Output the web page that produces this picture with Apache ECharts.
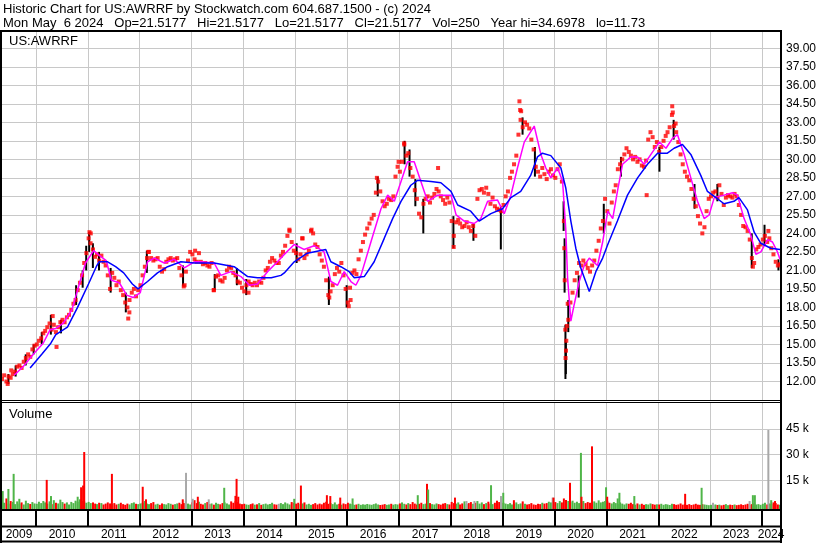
<!DOCTYPE html>
<html><head><meta charset="utf-8">
<script src="https://cdn.jsdelivr.net/npm/echarts@6/dist/echarts.min.js"></script>
<style>html,body{margin:0;padding:0;background:#fff}#c{width:830px;height:543px}</style>
</head><body><div id="c"></div>
<script>
// ---------- DATA ----------
const headerLine1 = 'Historic Chart for US:AWRRF by Stockwatch.com 604.687.1500 - (c) 2024';
const headerLine2 = 'Mon May  6 2024   Op=21.5177   Hi=21.5177   Lo=21.5177   Cl=21.5177   Vol=250   Year hi=34.6978   lo=11.73';
const symbolName = 'US:AWRRF';
const volumeTitle = 'Volume';
const yearLabels = ['2009','2010','2011','2012','2013','2014','2015','2016','2017','2018','2019','2020','2021','2022','2023','2024'];
const rangeStart = '2009-05-06', rangeEnd = '2024-05-06';
const priceTicks = {min: 10.5, max: 40.4, step: 1.5, firstLabel: 12, lastLabel: 39};
const volTicks = {min: 0, max: 60, step: 15};

// semi-monthly closes (6th and 21st of each month), 2009 starts in May
const c2009 = [12.2,12.5, 12.0,12.4, 12.3,12.6, 12.8,13.2, 13.3,13.1, 13.6,13.9, 14.2,14.0, 14.6,14.9];
const c2010 = [15.0,15.3, 15.5,15.9, 16.1,16.4, 16.7,16.2, 16.6,16.0, 16.4,16.8, 17.0,16.8, 17.2,17.4, 17.8,18.3, 18.6,19.4, 20.0,20.6, 21.6,22.4];
const c2011 = [23.6,24.0, 22.7,22.1, 22.3,21.8, 22.2,21.7, 21.4,20.6, 19.5,20.8, 20.4,19.8, 20.1,19.4, 19.0,18.4, 18.0,18.6, 19.2,19.5, 18.9,19.4];
const c2012 = [19.8,20.6, 21.3,22.0, 22.5,22.0, 21.8,21.9, 22.0,21.3, 20.9,21.1, 21.7,21.9, 22.0,21.8, 21.9,22.0, 21.2,20.6, 19.7,20.9, 21.8,22.5];
const c2013 = [22.3,21.9, 21.7,22.4, 21.7,21.5, 21.6,21.4, 21.3,21.6, 19.4,20.5, 20.6,20.2, 20.1,20.4, 21.0,21.3, 21.2,20.8, 20.6,20.1, 20.0,19.6];
const c2014 = [19.3,19.8, 20.1,19.9, 19.8,20.0, 19.8,20.1, 20.0,20.4, 21.0,21.2, 21.7,22.0, 21.8,21.6, 21.6,22.2, 22.5,23.0, 23.8,24.2, 23.3,22.6];
const c2015 = [22.4,21.9, 22.3,23.6, 22.0,22.3, 22.6,24.2, 24.0,23.1, 22.9,22.3, 21.8,21.3, 20.2,19.0, 19.3,19.8, 20.7,21.2, 20.9,21.6, 20.6,19.5];
const c2016 = [18.4,19.6, 20.8,21.0, 20.7,21.9, 22.6,23.3, 23.9,24.4, 24.8,25.2, 25.5,27.3, 28.2,27.4, 26.6,26.2, 26.4,26.8, 26.7,27.0, 28.6,29.4];
const c2017 = [29.0,29.8, 31.2,30.3, 30.5,29.3, 28.6,27.5, 26.8,25.6, 25.3,26.4, 26.8,27.0, 26.5,26.9, 27.2,27.6, 27.4,27.0, 26.7,26.4, 26.9,26.5];
const c2018 = [25.0,23.8, 24.9,25.1, 24.8,24.5, 24.6,24.9, 24.5,24.2, 24.6,23.8, 26.8,27.5, 27.6,27.3, 27.7,27.2, 26.4,26.9, 26.2,26.0, 25.9,25.8];
const c2019 = [26.3,27.0, 27.4,28.5, 29.0,29.6, 30.3,32.0, 33.2,32.6, 33.0,32.8, 32.5,31.6, 30.8,29.4, 29.0,28.6, 29.3,28.8, 28.4,29.0, 29.2,28.7];
const c2020 = [28.5,29.2, 29.6,28.2, 25.0,14.5, 17.0,18.4, 19.2,20.2, 20.8,21.6, 21.4,21.8, 21.5,21.2, 20.9,21.4, 21.8,22.6, 23.4,24.4, 25.0,26.8];
const c2021 = [25.8,24.8, 26.5,27.4, 27.9,29.2, 29.6,30.0, 30.4,30.9, 30.6,30.3, 30.0,30.2, 29.8,30.0, 29.5,29.4, 29.9,31.6, 32.2,31.8, 31.0,31.4];
const c2022 = [30.6,31.0, 31.5,31.9, 32.2,32.6, 33.6,32.7, 32.2,31.4, 30.4,29.6, 29.0,28.6, 28.3,27.6, 26.8,26.2, 25.4,24.8, 24.0,24.5, 25.8,26.8];
const c2023 = [27.0,27.3, 27.4,26.9, 27.9,27.2, 26.3,26.9, 27.1,27.0, 26.9,27.2, 27.0,26.3, 25.5,24.6, 24.5,24.2, 23.5,22.0, 21.6,22.7, 22.9,23.1];
const c2024 = [23.5,23.8, 23.3,23.6, 22.8,22.3, 21.7,21.4, 21.5];

// extra individual closes (outlying dots)
const extraCloses = [
 ['2009-06-15',11.8],['2009-07-10',12.9],['2010-04-28',17.3],['2010-05-25',14.8],
 ['2011-01-12',24.1],['2011-01-20',23.2],['2011-10-12',17.1],['2011-10-20',17.6],
 ['2012-03-01',22.5],['2012-11-12',19.8],['2013-01-25',22.6],['2013-06-05',19.4],
 ['2014-02-05',19.2],['2014-11-20',24.3],['2015-02-18',23.6],['2015-04-25',24.3],
 ['2015-08-28',18.8],['2016-01-12',18.1],['2016-01-25',18.6],['2016-07-28',28.5],
 ['2016-12-28',29.8],['2017-02-05',31.3],['2017-10-02',29.3],['2018-01-20',22.9],
 ['2019-04-28',34.7],['2019-05-03',34.0],['2019-05-10',33.9],
 ['2020-03-09',22.8],['2020-03-12',20.2],['2020-03-16',16.2],['2020-03-18',13.9],
 ['2020-03-23',15.3],['2020-03-27',16.5],['2020-04-02',18.3],
 ['2021-10-10',27.1],['2022-04-08',34.3],['2022-04-12',33.8],['2022-05-02',32.9],
 ['2023-10-28',21.3],['2024-02-14',24.2]
];

// daily low-high ranges (black bars)
const rangeBars = [
 ['2009-06-20',11.8,12.6],['2009-08-10',12.4,13.3],['2009-10-20',13.3,14.2],['2009-12-15',14.2,15.0],
 ['2010-02-10',15.0,16.0],['2010-04-15',15.8,17.4],['2010-06-25',15.9,17.0],['2010-10-10',18.2,19.8],
 ['2010-11-25',19.6,21.0],['2010-12-20',21.0,23.0],['2011-01-10',22.5,24.1],['2011-02-05',21.2,23.2],
 ['2011-03-20',21.0,22.5],['2011-06-10',19.2,21.2],['2011-09-25',17.6,19.2],['2012-02-20',20.8,22.6],
 ['2012-11-01',19.7,21.4],['2013-06-12',19.4,20.7],['2013-11-15',19.8,21.2],['2014-01-20',19.0,20.3],
 ['2015-01-10',21.6,23.2],['2015-08-25',18.2,20.5],['2015-12-28',18.0,19.8],['2016-08-03',27.0,28.6],
 ['2017-02-08',29.6,31.5],['2017-03-15',28.6,30.8],['2017-04-25',26.2,28.4],['2017-06-20',24.0,26.8],
 ['2018-01-18',22.8,25.4],['2018-06-08',23.4,24.8],['2018-12-18',22.7,26.2],['2019-05-20',32.0,33.4],
 ['2019-08-15',28.6,31.0],['2020-03-04',24.2,26.6],['2020-03-11',19.2,23.6],['2020-03-17',12.2,16.6],
 ['2020-03-20',12.6,15.2],['2020-04-06',16.0,18.6],['2020-06-18',18.8,20.6],['2020-12-12',24.0,26.4],
 ['2021-04-12',28.6,30.2],['2022-01-08',29.0,31.0],['2022-04-18',31.6,33.2],['2022-09-12',26.0,28.0],
 ['2023-02-20',26.6,28.0],['2023-10-20',21.2,24.0],['2024-01-18',23.0,24.7],['2024-04-25',21.0,21.9]
];

// short moving average (magenta)
const maShort = [
 ['2009-07-31',12.5],['2009-10-01',13.2],['2009-12-20',14.3],['2010-02-20',15.1],['2010-04-10',16.2],
 ['2010-05-20',16.3],['2010-07-10',16.7],['2010-09-10',17.8],['2010-10-25',19.6],['2010-12-15',21.6],
 ['2011-02-10',22.6],['2011-04-05',22.1],['2011-05-10',21.8],['2011-06-15',20.2],['2011-08-10',20.0],
 ['2011-10-01',19.0],['2011-11-15',18.8],['2012-01-05',19.2],['2012-02-25',21.7],['2012-04-12',22.0],
 ['2012-06-22',21.6],['2012-09-01',21.9],['2012-11-10',21.2],['2013-01-20',21.7],['2013-03-06',21.7],
 ['2013-06-08',21.6],['2013-07-25',20.6],['2013-10-04',20.9],['2013-12-14',20.5],['2014-02-11',19.8],
 ['2014-04-09',19.9],['2014-06-19',20.9],['2014-08-28',21.7],['2014-10-15',22.3],['2014-12-24',23.1],
 ['2015-03-03',22.7],['2015-05-13',23.0],['2015-07-22',22.5],['2015-09-08',20.1],['2015-10-25',19.8],
 ['2015-12-11',20.9],['2016-01-27',20.1],['2016-03-02',19.8],['2016-04-07',20.6],['2016-06-16',23.3],
 ['2016-08-26',26.0],['2016-10-12',27.1],['2016-11-28',26.6],['2017-01-14',28.2],['2017-03-01',29.8],
 ['2017-04-17',29.8],['2017-06-03',28.2],['2017-07-20',26.6],['2017-09-29',27.1],['2018-01-01',27.1],
 ['2018-02-06',25.5],['2018-04-04',25.0],['2018-06-13',24.8],['2018-07-30',25.2],['2018-09-16',26.6],
 ['2018-11-25',26.7],['2019-01-11',25.6],['2019-02-27',27.1],['2019-04-14',29.3],['2019-06-01',31.4],
 ['2019-08-10',32.7],['2019-09-26',30.4],['2019-10-31',29.3],['2019-12-05',28.5],['2020-01-22',29.3],
 ['2020-02-26',28.2],['2020-03-19',24.4],['2020-04-01',20.4],['2020-04-24',16.9],['2020-05-17',18.2],
 ['2020-06-22',20.1],['2020-07-27',21.4],['2020-09-01',22.0],['2020-10-29',21.4],['2020-12-04',23.3],
 ['2021-01-09',25.8],['2021-02-13',25.2],['2021-03-18',27.4],['2021-04-23',29.6],['2021-06-21',30.2],
 ['2021-08-07',30.2],['2021-09-23',29.6],['2021-11-09',30.4],['2022-01-07',31.4],['2022-02-23',30.9],
 ['2022-04-10',31.7],['2022-05-15',32.0],['2022-07-01',30.4],['2022-08-17',28.5],['2022-10-03',26.6],
 ['2022-11-19',25.2],['2022-12-24',25.5],['2023-01-29',26.9],['2023-04-08',27.1],['2023-06-06',27.3],
 ['2023-07-11',27.1],['2023-08-27',25.2],['2023-10-13',23.9],['2023-11-18',22.3],['2023-12-23',22.5],
 ['2024-02-09',23.5],['2024-03-14',23.3],['2024-04-18',22.5],['2024-05-06',21.9]
];

// long moving average (blue)
const maLong = [
 ['2009-11-20',13.1],['2010-02-10',14.2],['2010-04-15',15.1],['2010-05-20',15.8],['2010-08-10',16.4],
 ['2010-10-20',18.0],['2011-01-05',19.9],['2011-03-01',21.3],['2011-03-20',21.7],['2011-05-20',21.7],
 ['2011-07-15',21.3],['2011-09-10',20.8],['2011-11-10',19.9],['2011-12-20',19.5],['2012-02-25',20.1],
 ['2012-05-05',20.8],['2012-07-15',21.3],['2012-10-17',21.7],['2013-01-20',21.6],['2013-06-08',21.6],
 ['2013-10-27',21.3],['2014-01-30',20.5],['2014-04-09',20.4],['2014-07-15',20.4],['2014-09-21',20.6],
 ['2014-10-15',20.8],['2014-12-24',21.7],['2015-03-26',22.4],['2015-08-03',22.7],['2015-09-08',21.7],
 ['2015-11-17',21.3],['2016-01-15',20.9],['2016-02-20',20.4],['2016-04-30',20.5],['2016-07-09',21.7],
 ['2016-09-18',23.6],['2016-11-16',25.2],['2017-01-14',26.6],['2017-03-24',27.9],['2017-05-10',28.3],
 ['2017-08-13',28.2],['2017-10-22',28.1],['2018-01-01',27.4],['2018-02-17',26.3],['2018-05-20',25.8],
 ['2018-07-18',25.0],['2018-10-09',25.6],['2018-12-30',26.0],['2019-02-27',26.9],['2019-05-07',27.4],
 ['2019-07-16',28.7],['2019-09-02',30.2],['2019-10-07',30.5],['2019-12-05',30.3],['2020-02-14',29.3],
 ['2020-03-19',27.7],['2020-04-24',25.0],['2020-05-29',22.8],['2020-07-03',21.2],['2020-09-01',19.3],
 ['2020-10-17',20.9],['2020-12-04',22.0],['2021-01-09',23.1],['2021-03-18',25.0],['2021-05-28',27.1],
 ['2021-08-07',28.5],['2021-10-16',29.6],['2021-12-26',30.5],['2022-03-05',30.5],['2022-04-21',30.9],
 ['2022-06-19',31.2],['2022-08-17',30.4],['2022-10-26',28.7],['2022-12-12',27.4],['2023-01-29',27.0],
 ['2023-04-08',26.4],['2023-06-17',26.6],['2023-07-22',26.9],['2023-09-20',25.9],['2023-11-06',24.1],
 ['2023-12-23',23.2],['2024-03-02',22.8],['2024-05-06',22.7]
];

// semi-monthly background volume (thousands of shares)
const v2009 = [3.5,2.0,4.5,1.5,3.0,2.5,1.2,2.8,1.5,2.2,1.0,3.2,1.8,1.3,2.4,1.6];
const v2010 = [1.4,2.6,1.8,3.0,2.2,1.5,2.8,1.2,3.5,2.0,1.6,3.8,2.4,1.5,2.2,1.0,2.5,1.8,3.2,2.6,4.0,3.0,2.8,2.0];
const v2011 = [2.5,1.8,2.2,1.5,1.2,2.0,1.8,1.0,1.5,2.2,1.6,1.2,1.8,1.0,1.4,2.0,1.2,0.8,1.5,1.0,1.8,2.2,1.4,1.2];
const v2012 = [1.6,2.0,3.0,1.5,1.2,1.8,2.4,1.0,1.4,0.8,1.6,1.2,1.0,1.8,1.4,0.9,1.2,1.6,2.0,1.2,1.8,3.0,1.5,1.0];
const v2013 = [2.2,3.5,1.8,2.6,1.4,1.0,1.8,2.4,1.2,1.6,0.9,2.0,1.4,1.1,1.8,2.2,1.6,1.0,2.8,2.0,3.0,2.4,1.5,1.2];
const v2014 = [1.4,1.0,0.8,1.2,1.6,0.9,1.1,1.8,0.8,1.2,1.5,1.0,1.3,2.0,1.1,0.9,1.4,1.8,1.2,2.2,1.6,1.0,2.4,1.8];
const v2015 = [1.5,2.0,1.2,1.6,2.2,1.0,1.4,0.8,1.2,1.8,1.0,1.5,1.1,2.0,2.6,1.4,1.8,1.2,2.2,1.0,1.4,0.9,1.6,1.2];
const v2016 = [2.0,1.5,1.2,0.8,1.0,1.4,0.8,1.1,0.9,1.3,1.0,0.8,1.2,1.6,1.0,0.7,0.9,1.2,0.8,1.0,1.4,0.9,1.2,1.0];
const v2017 = [1.6,2.2,1.4,1.0,1.8,1.2,2.4,1.5,1.0,1.4,2.0,1.2,1.5,1.0,1.8,1.2,1.0,1.6,1.2,0.9,1.5,1.8,1.2,1.0];
const v2018 = [2.5,1.8,1.5,2.2,1.0,1.6,2.8,1.2,1.8,2.4,1.4,2.0,3.0,1.5,2.2,1.2,1.8,2.6,1.5,1.2,2.0,3.2,2.4,1.8];
const v2019 = [2.0,1.5,1.2,1.8,1.0,1.4,2.2,1.2,1.6,2.8,1.4,1.0,1.2,1.8,1.0,0.8,1.4,1.2,2.0,1.5,1.8,2.6,2.2,1.6];
const v2020 = [2.4,1.8,3.0,2.2,4.5,3.6,3.0,2.4,3.2,2.0,2.6,1.8,2.2,3.0,1.8,2.4,2.0,1.6,2.8,2.0,3.4,2.2,2.6,3.0];
const v2021 = [2.8,2.0,1.6,2.4,1.8,1.2,2.2,1.5,1.0,1.6,1.4,2.0,1.2,0.9,1.6,1.0,1.4,0.8,1.2,1.0,1.6,1.2,0.9,1.1];
const v2022 = [1.0,1.4,0.8,1.2,1.0,0.7,1.4,1.2,0.8,1.0,1.6,0.9,1.1,0.8,1.2,0.7,1.0,1.4,0.9,0.8,1.2,1.0,0.8,0.6];
const v2023 = [0.8,0.6,1.0,0.7,0.9,0.5,0.8,1.2,0.6,0.9,0.7,1.0,0.6,0.8,1.1,0.7,1.0,1.4,0.9,1.2,1.6,1.0,1.2,0.8];
const v2024 = [1.4,2.0,1.0,1.6,1.2,2.2,1.8,1.0,0.8];

// notable volume days: date, thousands, direction (u=up, d=down, n=unchanged)
const volSpikes = [
 ['2009-05-11',8.8,'u'],['2009-06-20',10.0,'u'],['2009-07-27',18.8,'u'],['2009-09-05',4.3,'u'],
 ['2010-03-17',15.3,'d'],['2010-04-16',5.9,'u'],['2010-10-21',5.5,'u'],['2010-11-14',11.0,'d'],
 ['2010-11-28',12.0,'d'],['2010-12-06',31.5,'d'],['2011-06-19',18.8,'d'],['2012-01-22',11.3,'d'],
 ['2012-02-14',4.0,'d'],['2012-10-30',4.0,'d'],['2012-11-22',19.4,'n'],['2013-01-08',4.3,'n'],
 ['2013-02-13',5.5,'d'],['2013-05-01',4.0,'n'],['2013-08-18',10.7,'u'],['2013-11-05',6.0,'d'],
 ['2013-11-13',15.9,'d'],['2013-11-25',5.5,'d'],['2014-12-24',4.3,'u'],['2015-02-09',12.0,'d'],
 ['2015-08-11',6.4,'d'],['2015-09-04',5.9,'d'],['2015-11-13',5.0,'d'],['2016-02-08',4.5,'u'],
 ['2017-05-12',6.4,'u'],['2017-07-16',13.0,'d'],['2017-07-24',9.7,'u'],['2018-01-29',5.0,'d'],
 ['2018-04-20',3.0,'n'],['2018-06-15',3.0,'n'],['2018-10-10',12.2,'u'],['2018-12-19',5.9,'n'],
 ['2019-01-04',7.8,'u'],['2019-03-20',3.5,'d'],['2019-12-18',5.0,'n'],['2019-12-24',5.0,'d'],
 ['2020-04-18',13.6,'d'],['2020-07-04',31.0,'u'],['2020-07-08',5.5,'d'],['2020-09-20',34.8,'d'],
 ['2020-12-28',11.0,'u'],['2021-01-05',5.5,'d'],['2021-03-20',4.5,'u'],['2021-04-01',7.8,'u'],
 ['2021-07-15',5.9,'u'],['2022-07-08',7.2,'d'],['2022-11-01',10.7,'u'],['2023-01-20',2.0,'n'],
 ['2023-10-05',3.0,'n'],['2023-10-28',6.4,'u'],['2023-11-11',6.4,'u'],['2024-02-14',44.3,'n'],
 ['2024-03-05',3.5,'u'],['2024-04-01',3.0,'d']
];

// ---------- BUILD ----------
const ts = s => Date.parse(s + 'T00:00:00Z');
const closeYears = [[2009,c2009],[2010,c2010],[2011,c2011],[2012,c2012],[2013,c2013],[2014,c2014],[2015,c2015],[2016,c2016],[2017,c2017],[2018,c2018],[2019,c2019],[2020,c2020],[2021,c2021],[2022,c2022],[2023,c2023],[2024,c2024]];
const volYears = [[2009,v2009],[2010,v2010],[2011,v2011],[2012,v2012],[2013,v2013],[2014,v2014],[2015,v2015],[2016,v2016],[2017,v2017],[2018,v2018],[2019,v2019],[2020,v2020],[2021,v2021],[2022,v2022],[2023,v2023],[2024,v2024]];
function semiDate(year, j){ const m0 = (year === 2009 ? 4 : 0) + Math.floor(j/2); return Date.UTC(year, m0, j % 2 ? 21 : 6); }

const closePts = [];
closeYears.forEach(([y, arr]) => arr.forEach((v, j) => closePts.push([semiDate(y, j), v])));
const dotData = closePts.concat(extraCloses.map(d => [ts(d[0]), d[1]]));

const dirCode = {u: 0, d: 1, n: 2};
const volColors = ['#4fb548', '#ff0000', '#a8a8a8'];
const volData = [];
let k = 0;
volYears.forEach(([y, arr]) => arr.forEach((v, j) => {
  const c = closePts[k][1], p = k > 0 ? closePts[k-1][1] : c;
  volData.push([semiDate(y, j), v, c > p ? 0 : (c < p ? 1 : 2)]);
  k++;
}));
volSpikes.forEach(d => volData.push([ts(d[0]), d[1], dirCode[d[2]]]));

const X_MIN = ts(rangeStart), X_MAX = ts(rangeEnd);
const yearMids = yearLabels.map(y => {
  const a = Math.max(Date.UTC(+y, 0, 1), X_MIN), b = Math.min(Date.UTC(+y + 1, 0, 1), X_MAX);
  return [(a + b) / 2, 0, y];
});

const FONT = '"Liberation Sans", Arial, sans-serif';
const GRID_C = '#c8c8c8';
const YEAR_MS = 365 * 864e5;
function xAxisFor(gi, color, width) {
  return {type: 'time', gridIndex: gi, min: X_MIN, max: X_MAX,
    minInterval: YEAR_MS, maxInterval: YEAR_MS + 864e5,
    axisLine: {show: false}, axisTick: {show: false}, axisLabel: {show: false},
    splitLine: {show: true, showMinLine: false, showMaxLine: false, lineStyle: {color: color, width: width}}};
}

const chart = echarts.init(document.getElementById('c'), null, {renderer: 'canvas'});
const borderLines = [
  [0, 31, 782, 31, 2], [1, 30, 1, 543, 2], [781, 30, 781, 543, 2],
  [0, 400.5, 782, 400.5, 1], [0, 402.5, 782, 402.5, 1],
  [0, 510, 782, 510, 2], [0, 526.5, 782, 526.5, 2], [0, 541.5, 782, 541.5, 2]
];
chart.setOption({
  animation: false,
  useUTC: true,
  backgroundColor: '#fff',
  grid: [
    {left: 2, top: 31, width: 778, height: 369, outerBoundsMode: 'none'},
    {left: 2, top: 403, width: 778, height: 103.2, outerBoundsMode: 'none'},
    {left: 2, top: 511, width: 778, height: 15, outerBoundsMode: 'none'}
  ],
  xAxis: [xAxisFor(0, GRID_C, 1), xAxisFor(1, GRID_C, 1), xAxisFor(2, '#000', 2)],
  yAxis: [
    {type: 'value', gridIndex: 0, position: 'right', min: priceTicks.min, max: priceTicks.max, interval: priceTicks.step,
      axisLine: {show: false}, axisTick: {show: false},
      axisLabel: {margin: 6, fontSize: 12, fontFamily: FONT, color: '#000',
        formatter: v => (v >= priceTicks.firstLabel - 1e-6 && v <= priceTicks.lastLabel + 1e-6) ? v.toFixed(2) : ''},
      splitLine: {show: true, showMinLine: false, showMaxLine: false, lineStyle: {color: GRID_C}}},
    {type: 'value', gridIndex: 1, position: 'right', min: volTicks.min, max: volTicks.max, interval: volTicks.step,
      axisLine: {show: false}, axisTick: {show: false},
      axisLabel: {margin: 6, fontSize: 12, fontFamily: FONT, color: '#000',
        formatter: v => (v > volTicks.min && v < volTicks.max) ? v + ' k' : ''},
      splitLine: {show: true, showMinLine: false, showMaxLine: false, lineStyle: {color: GRID_C}}},
    {type: 'value', gridIndex: 2, min: 0, max: 1, show: false}
  ],
  series: [
    {type: 'custom', name: 'range', xAxisIndex: 0, yAxisIndex: 0, z: 2, silent: true,
      data: rangeBars.map(d => [ts(d[0]), d[1], d[2]]),
      renderItem: (params, api) => {
        const lo = api.coord([api.value(0), api.value(1)]), hi = api.coord([api.value(0), api.value(2)]);
        return {type: 'line', shape: {x1: lo[0], y1: lo[1], x2: hi[0], y2: hi[1]}, style: {stroke: '#000', lineWidth: 2}};
      }},
    {type: 'scatter', name: 'close', xAxisIndex: 0, yAxisIndex: 0, z: 3, silent: true,
      symbol: 'rect', symbolSize: 4, itemStyle: {color: '#ff0000'}, data: dotData},
    {type: 'line', name: 'maShort', xAxisIndex: 0, yAxisIndex: 0, z: 4, silent: true, showSymbol: false,
      lineStyle: {color: '#ff00ff', width: 1.5}, data: maShort.map(d => [ts(d[0]), d[1]])},
    {type: 'line', name: 'maLong', xAxisIndex: 0, yAxisIndex: 0, z: 4, silent: true, showSymbol: false,
      lineStyle: {color: '#0000ff', width: 1.5}, data: maLong.map(d => [ts(d[0]), d[1]])},
    {type: 'custom', name: 'volume', xAxisIndex: 1, yAxisIndex: 1, z: 2, silent: true, data: volData,
      renderItem: (params, api) => {
        const top = api.coord([api.value(0), api.value(1)]), base = api.coord([api.value(0), 0]);
        return {type: 'rect', shape: {x: top[0] - 1, y: top[1], width: 2, height: base[1] - top[1] + 3},
          style: {fill: volColors[api.value(2)]}};
      }},
    {type: 'custom', name: 'years', xAxisIndex: 2, yAxisIndex: 2, z: 5, silent: true,
      data: yearMids,
      renderItem: (params, api) => {
        const p = api.coord([api.value(0), 0]);
        return {type: 'text', x: p[0], y: p[1] + 8.5,
          style: {text: yearLabels[params.dataIndex], fill: '#000', font: '12px ' + FONT, align: 'center', verticalAlign: 'middle'}};
      }}
  ],
  graphic: [
    {type: 'text', x: 3, y: 9, z: 100, silent: true, style: {text: headerLine1, fill: '#000', font: '13px ' + FONT, verticalAlign: 'middle'}},
    {type: 'text', x: 3, y: 23, z: 100, silent: true, style: {text: headerLine2, fill: '#000', font: '13px ' + FONT, verticalAlign: 'middle'}},
    {type: 'text', x: 9, y: 41, z: 100, silent: true, style: {text: symbolName, fill: '#000', font: '13px ' + FONT, verticalAlign: 'middle'}},
    {type: 'text', x: 9, y: 414, z: 100, silent: true, style: {text: volumeTitle, fill: '#000', font: '13px ' + FONT, verticalAlign: 'middle'}}
  ].concat(borderLines.map(b => ({type: 'line', z: 100, silent: true,
    shape: {x1: b[0], y1: b[1], x2: b[2], y2: b[3]}, style: {stroke: '#000', lineWidth: b[4]}})))
});
</script></body></html>
